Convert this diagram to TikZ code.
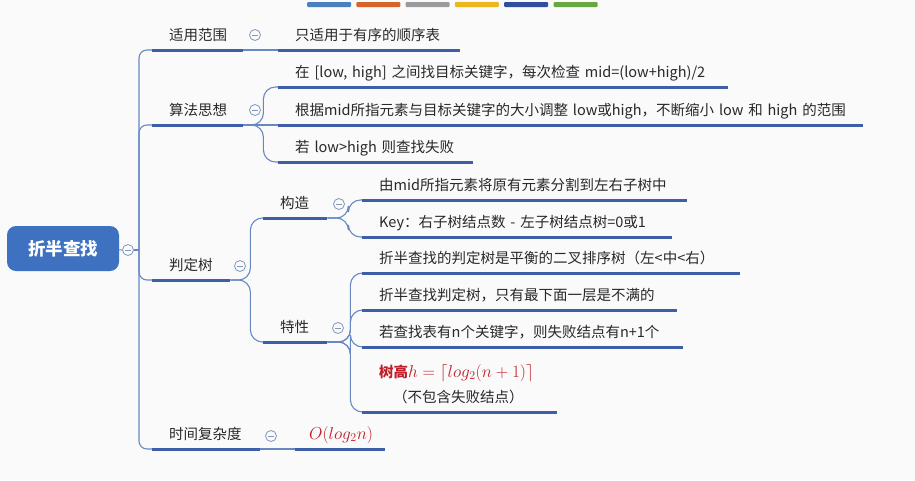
\documentclass[tikz,border=0pt]{standalone}
\usepackage{fontspec}
\setmainfont{Noto Sans CJK SC}
\usepackage{tikz}
\usetikzlibrary{positioning,calc}
\definecolor{fondo}{RGB}{250,250,250}
\definecolor{rootblue}{RGB}{62,114,192}
\definecolor{lineblue}{RGB}{62,94,168}
\definecolor{twigblue}{RGB}{104,136,196}
\definecolor{foldgray}{RGB}{130,150,190}
\definecolor{textgray}{RGB}{40,40,40}
\definecolor{redmath}{RGB}{190,30,40}
\definecolor{barA}{RGB}{74,128,192}
\definecolor{barB}{RGB}{214,100,40}
\definecolor{barC}{RGB}{155,155,155}
\definecolor{barD}{RGB}{236,182,30}
\definecolor{barE}{RGB}{48,78,160}
\definecolor{barF}{RGB}{104,168,64}
\newcommand{\formula}[1]{\textcolor{redmath}{\fontsize{17}{20}\selectfont$#1$}}

\begin{document}
\begin{tikzpicture}[x=1pt, y={(0pt,-1pt)},
  root/.style={fill=rootblue, rounded corners=9pt, text=white,
    font=\fontsize{17.5}{20}\selectfont\bfseries,
    minimum width=112pt, minimum height=45pt},
  topic/.style={anchor=south west, inner xsep=0pt, inner ysep=0pt,
    text width=#1pt, align=left, text depth=9.5pt, text=textgray,
    font=\fontsize{14.5}{20}\selectfont,
    execute at begin node={\hspace*{17pt}}},
  fold/.style={circle, draw=foldgray, fill=fondo, line width=0.8pt,
    minimum size=11pt, inner sep=0pt,
    path picture={\draw[foldgray, line width=0.8pt]
      ([xshift=-2.6pt]path picture bounding box.center) --
      ([xshift=2.6pt]path picture bounding box.center);}},
  branch/.style={draw=twigblue, line width=1.1pt, rounded corners=12pt},
  uline/.style={draw=lineblue, line width=3pt}
]
\fill[fondo] (0,0) rectangle (915,480);
\useasboundingbox (0,0) rectangle (915,480);
% Barra de colores
\foreach \c [count=\i] in {barA,barB,barC,barD,barE,barF}
  \fill[\c, rounded corners=1pt] ({307+(\i-1)*49.3},2) rectangle ++(44,5);
% Raiz
\node[root] (root) at (63,248.5) {折半查找};
\node[fold] (c0) at (128,250) {};
\coordinate (tr) at (139,250);
% Primer nivel
\node[topic=91] (fw) at (152,50) {适用范围};
\node[topic=91] (sx) at (152,125) {算法思想};
\node[topic=78] (pds) at (152,280) {判定树};
\node[topic=108] (sj) at (152,449) {时间复杂度};
\node[fold] (c1) at (255,35) {};
\node[fold] (c2) at (255,110) {};
\node[fold] (c3) at (240,266) {};
\node[fold] (c4) at (271,436) {};
% Hojas
\node[topic=182] (fw1) at (278,50) {只适用于有序的顺序表};
\node[topic=450] (sx1) at (278,87) {在 [low, high] 之间找目标关键字，每次检查 mid=(low+high)/2};
\node[topic=585] (sx2) at (278,125) {根据mid所指元素与目标关键字的大小调整 low或high，不断缩小 low 和 high 的范围};
\node[topic=195] (sx3) at (278,162) {若 low>high 则查找失败};
\node[topic=64] (gz) at (263,218) {构造};
\node[topic=64] (tx) at (263,342) {特性};
\node[fold] (c31) at (339,204) {};
\node[fold] (c32) at (338,328) {};
\node[topic=325] (gz1) at (362,200) {由mid所指元素将原有元素分割到左右子树中};
\node[topic=310] (gz2) at (362,237) {Key：右子树结点数 - 左子树结点树=0或1};
\node[topic=378] (tx1) at (362,273) {折半查找的判定树是平衡的二叉排序树（左<中<右）};
\node[topic=315] (tx2) at (362,310) {折半查找判定树，只有最下面一层是不满的};
\node[topic=321] (tx3) at (362,347) {若查找表有n个关键字，则失败结点有n+1个};
\node[topic=195, text depth=34.5pt] (tx4) at (362,412)
  {\textcolor{redmath}{\textbf{树高}}\formula{h=\lceil log_2(n+1)\rceil}\\[5pt]
  \hspace*{31pt}（不包含失败结点）};
\node[topic=90] (sj1) at (295,449) {\hspace*{-3pt}\formula{O(log_2n)}};
% Ramas
\draw[branch] (root) -- (c0);
\draw[branch] (c0) -- (tr);
\foreach \n in {fw,sx,pds,sj}
  \draw[branch, rounded corners=8pt] (tr) |- (\n.south west);
\draw[branch] (fw.south east) -- (fw1.south west);
\draw[branch] (sx.south east) -- (sx2.south west);
\foreach \n in {sx1,sx3}
  \draw[branch] (sx.south east) -- ++(20,0) |- (\n.south west);
\foreach \n in {gz,tx}
  \draw[branch] (pds.south east) -- ++(20,0) |- (\n.south west);
\foreach \n in {gz1,gz2}
  \draw[branch] (gz.south east) -- ++(21,0) |- (\n.south west);
\foreach \n in {tx1,tx2,tx3,tx4}
  \draw[branch] (tx.south east) -- ++(23,0) |- (\n.south west);
\draw[branch] (sj.south east) -- (sj1.south west);
% Subrayados
\foreach \n in {fw,sx,pds,sj,fw1,sx1,sx2,sx3,gz,tx,gz1,gz2,tx1,tx2,tx3,tx4,sj1}
  \draw[uline] (\n.south west) -- (\n.south east);
\end{tikzpicture}
\end{document}
